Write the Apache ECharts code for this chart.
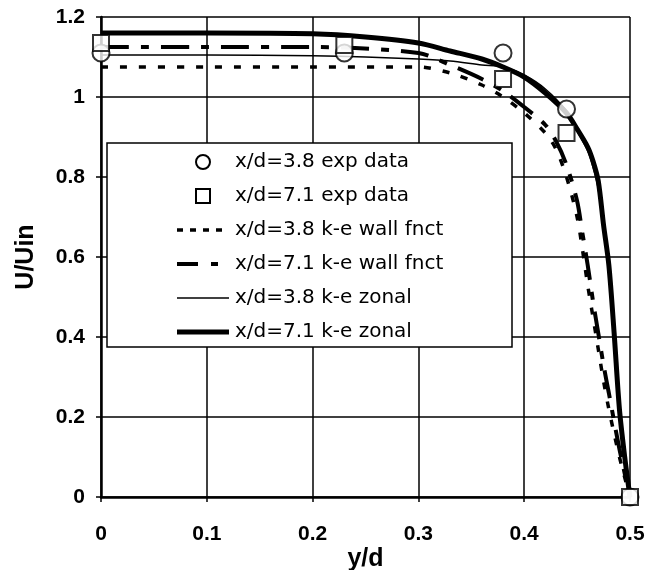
<!DOCTYPE html>
<html>
<head>
<meta charset="utf-8">
<script src="https://cdn.jsdelivr.net/npm/echarts@6/dist/echarts.min.js"></script>
<style>
    html, body {margin: 0; padding: 0; background: #fff;}
    #chart {width: 658px; height: 570px;}
</style>
</head>
<body>
<div id="chart"></div>
<script>
// experimental points (y/d, U/Uin)
var ydExp = [0, 0.23, 0.38, 0.44, 0.5];
var u38Exp = [1.11, 1.11, 1.11, 0.97, 0];
var u71Exp = [1.135, 1.13, 1.045, 0.91, 0];

// k-e zonal
var ydZonal = [0, 0.1, 0.2, 0.25, 0.3, 0.33, 0.36, 0.38, 0.4, 0.42, 0.44, 0.45, 0.46, 0.465, 0.47, 0.475, 0.48, 0.485, 0.49, 0.495, 0.5];
var u38Zonal = [1.105, 1.105, 1.103, 1.1, 1.095, 1.09, 1.08, 1.075, 1.055, 1.02, 0.965, 0.915, 0.865, 0.825, 0.77, 0.67, 0.56, 0.4, 0.21, 0.1, 0];
var u71Zonal = [1.16, 1.16, 1.158, 1.15, 1.135, 1.115, 1.095, 1.075, 1.05, 1.01, 0.96, 0.92, 0.875, 0.84, 0.79, 0.68, 0.58, 0.41, 0.22, 0.1, 0];

// k-e wall function
var ydWall = [0, 0.1, 0.2, 0.3, 0.33, 0.36, 0.38, 0.4, 0.42, 0.43, 0.44, 0.45, 0.455, 0.46, 0.465, 0.47, 0.475, 0.48, 0.49, 0.5];
var u38Wall = [1.075, 1.075, 1.075, 1.075, 1.06, 1.03, 1.0, 0.96, 0.91, 0.87, 0.8, 0.7, 0.62, 0.53, 0.45, 0.37, 0.29, 0.22, 0.1, 0];
var u71Wall = [1.125, 1.125, 1.125, 1.11, 1.08, 1.045, 1.015, 0.975, 0.93, 0.89, 0.83, 0.74, 0.66, 0.58, 0.49, 0.41, 0.33, 0.26, 0.12, 0];

var names = ['x/d=3.8 exp data', 'x/d=7.1 exp data', 'x/d=3.8 k-e wall fnct',
    'x/d=7.1 k-e wall fnct', 'x/d=3.8 k-e zonal', 'x/d=7.1 k-e zonal'];

var xTicks = [0, 0.1, 0.2, 0.3, 0.4, 0.5];
var yTicks = [0, 0.2, 0.4, 0.6, 0.8, 1, 1.2];

function pairs(xs, ys) {
    var out = [];
    for (var i = 0; i < xs.length; i++) {
        out.push([xs[i], ys[i]]);
    }
    return out;
}

function tickFmt(list) {
    return function (v) {
        var r = Math.round(v * 10) / 10;
        return list.indexOf(r) >= 0 ? String(r) : '';
    };
}

var font = "Liberation Sans, Arial, sans-serif";
var legendFont = "DejaVu Sans, sans-serif";
var splitLine = {show: true, lineStyle: {color: "#000", width: 1.5}};
var axisLine = {show: true, onZero: false, lineStyle: {color: "#000", width: 2.5}};
var axisTick = {show: true, length: 5, lineStyle: {color: "#000", width: 1.5}};
var hollow = {color: "#fff", borderColor: "#000", borderWidth: 2};

// line styles shared by the plot and the legend
var styles = [
    null,
    null,
    {width: 3.5, dash: [7, 12]},
    {width: 4, dash: [28, 12, 8, 12]},
    {width: 1.5, dash: 'solid'},
    {width: 5, dash: 'solid'}
];

function lineSeries(i, xs, ys) {
    return {
        name: names[i],
        type: 'line',
        data: pairs(xs, ys),
        symbol: 'none',
        smooth: 0.3,
        lineStyle: {color: "#000", width: styles[i].width, type: styles[i].dash},
        z: 3
    };
}

// legend drawn as a graphic box
var legendX = 107, legendY = 143, rowH = 34;
var legendItems = [{
    type: 'rect',
    shape: {x: legendX, y: legendY, width: 405, height: 204},
    style: {fill: "#fff", stroke: "#000", lineWidth: 1.5},
    z: 100
}];
for (var i = 0; i < names.length; i++) {
    var cy = legendY + 19 + i * rowH;
    if (i === 0) {
        legendItems.push({type: 'circle', shape: {cx: 203, cy: cy, r: 7},
            style: {fill: "#fff", stroke: "#000", lineWidth: 2}, z: 101});
    } else if (i === 1) {
        legendItems.push({type: 'rect', shape: {x: 196, y: cy - 7, width: 14, height: 14},
            style: {fill: "#fff", stroke: "#000", lineWidth: 2}, z: 101});
    } else {
        legendItems.push({type: 'line', shape: {x1: 177, y1: cy, x2: 229, y2: cy},
            style: {stroke: "#000", lineWidth: styles[i].width,
                lineDash: styles[i].dash === 'solid' ? null : (i === 2 ? [6, 7] : [21, 13, 7, 20])}, z: 101});
    }
    legendItems.push({type: 'text', x: 235, y: cy,
        style: {text: names[i], fill: "#000", font: "20px " + legendFont, textVerticalAlign: 'middle'}, z: 101});
}

var option = {
    animation: false,
    backgroundColor: "#fff",
    textStyle: {fontFamily: font, color: "#000"},
    grid: {left: 101, top: 17, right: 28, bottom: 73, containLabel: false, outerBoundsMode: 'none'},
    xAxis: {
        type: 'value',
        min: 0,
        max: 0.5,
        interval: 0.1,
        name: 'y/d',
        nameLocation: 'middle',
        nameGap: 50,
        nameMoveOverlap: false,
        nameTextStyle: {fontSize: 25, fontWeight: 'bold', color: "#000"},
        axisLine: axisLine,
        axisTick: axisTick,
        axisLabel: {fontSize: 21, fontWeight: 'bold', color: "#000", margin: 27, formatter: tickFmt(xTicks)},
        splitLine: splitLine
    },
    yAxis: {
        type: 'value',
        min: 0,
        max: 1.2,
        interval: 0.2,
        name: 'U/Uin',
        nameLocation: 'middle',
        nameGap: 62,
        nameMoveOverlap: false,
        nameTextStyle: {fontSize: 25, fontWeight: 'bold', color: "#000"},
        axisLine: axisLine,
        axisTick: axisTick,
        axisLabel: {fontSize: 21, fontWeight: 'bold', color: "#000", margin: 16, formatter: tickFmt(yTicks)},
        splitLine: splitLine
    },
    graphic: legendItems,
    series: [
        {
            name: names[0],
            type: 'scatter',
            symbol: 'circle',
            symbolSize: 17,
            data: pairs(ydExp, u38Exp),
            itemStyle: hollow,
            z: 4
        },
        {
            name: names[1],
            type: 'scatter',
            symbol: 'rect',
            symbolSize: 16,
            data: pairs(ydExp, u71Exp),
            itemStyle: hollow,
            z: 4
        },
        lineSeries(2, ydWall, u38Wall),
        lineSeries(3, ydWall, u71Wall),
        lineSeries(4, ydZonal, u38Zonal),
        lineSeries(5, ydZonal, u71Zonal)
    ]
};

var chart = echarts.init(document.getElementById('chart'));
chart.setOption(option);
</script>
</body>
</html>
